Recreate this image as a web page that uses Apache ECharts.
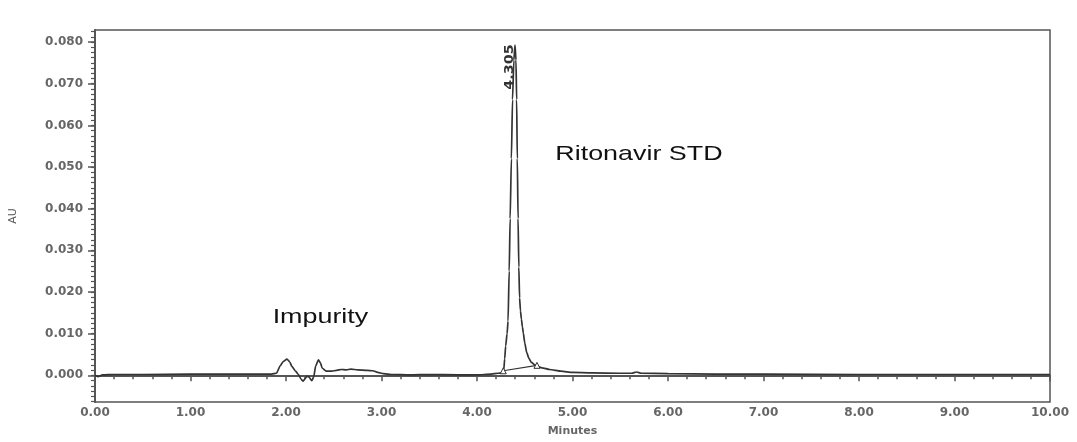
<!DOCTYPE html>
<html>
<head>
<meta charset="utf-8">
<script src="https://cdn.jsdelivr.net/npm/echarts@6/dist/echarts.min.js"></script>
<style>
html,body{margin:0;padding:0;background:#fff;}
#c{width:1077px;height:442px;}
</style>
</head>
<body>
<div id="c"></div>
<script>
// Chromatogram trace: retention time (minutes) and absorbance (AU)
var times = [0, 0.03, 0.08, 0.2, 0.5, 1.0, 1.5, 1.85,
  1.9, 1.94, 1.97, 2.01, 2.04, 2.06, 2.10, 2.13, 2.16, 2.18, 2.20, 2.22, 2.24, 2.27, 2.29, 2.31, 2.34, 2.36, 2.38, 2.42, 2.48, 2.53, 2.58, 2.63, 2.68, 2.75, 2.85, 2.91, 2.96, 3.02, 3.1, 3.3, 3.5, 3.8, 4.0, 4.15, 4.22, 4.26,
  4.272, 4.28, 4.29, 4.30, 4.315, 4.325, 4.337, 4.347, 4.36, 4.372, 4.386, 4.398, 4.408, 4.415, 4.422, 4.43, 4.438, 4.446, 4.455, 4.465, 4.475, 4.485, 4.50, 4.52, 4.545, 4.57, 4.60, 4.63, 4.68, 4.76, 4.88, 5.0, 5.2, 5.5, 5.62, 5.67, 5.72, 6.0, 6.5, 7.0, 8.0, 9.0, 10.0];
var absorbance = [0.0000, -0.0003, 0.0001, 0.0002, 0.0002, 0.0003, 0.0003, 0.0003,
  0.0005, 0.0023, 0.0033, 0.0039, 0.0032, 0.0022, 0.0010, 0.0002, -0.0010, -0.0014, -0.0008, -0.0002, -0.0004, -0.0013, -0.0004, 0.0022, 0.0037, 0.0030, 0.0017, 0.0010, 0.0010, 0.0012, 0.0014, 0.0013, 0.0015, 0.0013, 0.0012, 0.0011, 0.0007, 0.0004, 0.0002, 0.0001, 0.0002, 0.0001, 0.0001, 0.0003, 0.0005, 0.0006,
  0.0008, 0.0012, 0.0040, 0.0070, 0.0100, 0.0130, 0.0250, 0.0376, 0.0520, 0.0662, 0.0757, 0.0793, 0.0757, 0.0662, 0.0520, 0.0376, 0.0260, 0.0186, 0.0155, 0.0135, 0.0117, 0.0102, 0.0078, 0.0055, 0.0040, 0.0031, 0.0026, 0.0022, 0.0018, 0.0014, 0.0010, 0.0007, 0.0006, 0.0005, 0.0005, 0.0008, 0.0005, 0.0004, 0.0003, 0.0003, 0.0002, 0.0002, 0.0002];
// Integration baseline (peak start / end markers)
var baselineTimes = [4.275, 4.628];
var baselineValues = [0.0011, 0.0024];
// Peak label
var peakTime = 4.398;
var peakValue = 0.0793;
var peakLabel = '4.305';
// Tick labels
var yTickValues = [0.000, 0.010, 0.020, 0.030, 0.040, 0.050, 0.060, 0.070, 0.080];
var xTickLabels = ['0.00','1.00','2.00','3.00','4.00','5.00','6.00','7.00','8.00','9.00','10.00'];
var annotations = [
  {text: 'Ritonavir STD', t: 4.82, v: 0.0531},
  {text: 'Impurity', t: 1.86, v: 0.0140}
];

var yMinorTicks = [];
for (var i = -5; i <= 66; i++) { yMinorTicks.push(+(i * 0.00125).toFixed(5)); }

var traceData = times.map(function (t, i) { return [t, absorbance[i]]; });
var baseData = baselineTimes.map(function (t, i) { return [t, baselineValues[i]]; });

var axisColor = '#555';
var labelStyle = {color: '#666', fontFamily: 'DejaVu Sans', fontWeight: 'bold', fontSize: 12};

var chart = echarts.init(document.getElementById('c'), null, {renderer: 'canvas'});
var option = {
  animation: false,
  backgroundColor: '#fff',
  grid: {left: 95, right: 27, top: 30, bottom: 37, show: true, borderColor: axisColor, borderWidth: 1.5, backgroundColor: 'transparent'},
  xAxis: {
    type: 'value', min: 0, max: 10, interval: 1,
    name: 'Minutes', nameLocation: 'middle', nameGap: 24,
    nameTextStyle: {color: '#666', fontFamily: 'DejaVu Sans', fontWeight: 'bold', fontSize: 11},
    axisLine: {show: true, lineStyle: {color: axisColor, width: 2}},
    axisTick: {show: true, length: 6, lineStyle: {color: axisColor, width: 1.5}},
    minorTick: {show: true, splitNumber: 5, length: 4, lineStyle: {color: axisColor, width: 1.5}},
    splitLine: {show: false},
    axisLabel: Object.assign({margin: 5, formatter: function (v) { return xTickLabels[Math.round(v)]; }}, labelStyle)
  },
  yAxis: [{
    type: 'value', min: -0.0064, max: 0.0829, position: 'left',
    name: 'AU', nameLocation: 'middle', nameGap: 76, nameRotate: 90,
    nameTextStyle: {color: '#555', fontFamily: 'DejaVu Sans', fontSize: 11},
    axisLine: {show: true, lineStyle: {color: axisColor, width: 2}},
    axisTick: {show: true, length: 7, customValues: yTickValues, lineStyle: {color: axisColor, width: 1.5}},
    splitLine: {show: false},
    axisLabel: Object.assign({margin: 12, customValues: yTickValues, formatter: function (v) { return v.toFixed(3); }}, labelStyle)
  }, {
    type: 'value', min: -0.0064, max: 0.0829, position: 'left', offset: 0,
    axisLine: {show: false},
    axisTick: {show: true, length: 4, customValues: yMinorTicks, lineStyle: {color: axisColor, width: 1.2}},
    axisLabel: {show: false},
    splitLine: {show: false}
  }],
  series: [{
    type: 'line', data: traceData, yAxisIndex: 0, showSymbol: false, symbol: 'none', smooth: 0.2, smoothMonotone: 'x',
    lineStyle: {color: '#333', width: 1.7}
  }, {
    type: 'line', data: baseData, yAxisIndex: 0, symbol: 'triangle', symbolSize: 6, showSymbol: true,
    itemStyle: {color: '#fff', borderColor: '#333', borderWidth: 1},
    lineStyle: {color: '#333', width: 1.2}
  }]
};
chart.setOption(option);

var graphics = annotations.map(function (a) {
  var p = chart.convertToPixel({gridIndex: 0}, [a.t, a.v]);
  return {type: 'text', x: p[0], y: p[1], scaleX: 1.28, z: 10,
    style: {text: a.text, fontFamily: 'Liberation Sans', fontSize: 21, fill: '#111', textAlign: 'left', textVerticalAlign: 'middle'}};
});
var pk = chart.convertToPixel({gridIndex: 0}, [peakTime, peakValue]);
graphics.push({type: 'text', x: pk[0] - 5, y: pk[1] + 22, rotation: Math.PI / 2, scaleX: 1.2, z: 10,
  style: {text: peakLabel, fontFamily: 'DejaVu Sans', fontWeight: 'bold', fontSize: 12, fill: '#333', textAlign: 'center', textVerticalAlign: 'middle'}});
chart.setOption({graphic: graphics});
</script>
</body>
</html>
